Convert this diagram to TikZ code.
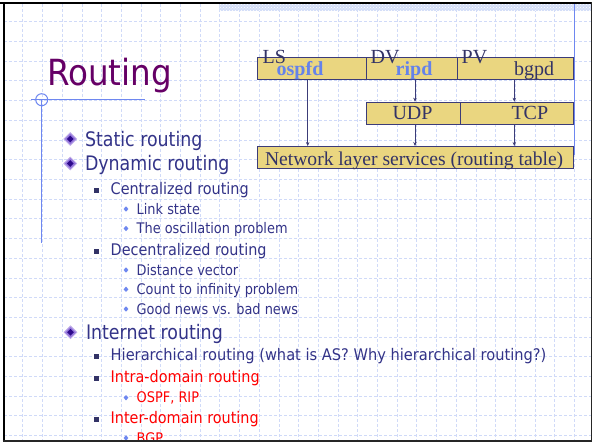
\documentclass[tikz,border=0pt]{standalone}
\usepackage{fontspec}
\setmainfont{Liberation Serif}
\newfontfamily\tah{DejaVu Sans}[FakeStretch=0.87]
\newfontfamily\tahb{DejaVu Sans}[FakeStretch=0.9]
\newfontfamily\tahc{DejaVu Sans}[FakeStretch=0.885]
\newfontfamily\tahd{DejaVu Sans}[FakeStretch=0.905]
\usetikzlibrary{shapes.geometric,arrows.meta,patterns}
\definecolor{txt}{RGB}{51,51,136}
\definecolor{ttl}{RGB}{102,0,102}
\definecolor{gridc}{RGB}{208,218,248}
\definecolor{accent}{RGB}{110,135,240}
\definecolor{boxfill}{RGB}{234,214,128}
\definecolor{boxline}{RGB}{60,60,120}
\definecolor{blutxt}{RGB}{100,130,235}
\definecolor{dtxt}{RGB}{51,51,102}
\definecolor{bandc}{RGB}{212,222,248}
\definecolor{bullpurple}{RGB}{150,120,220}
\definecolor{bulldark}{RGB}{46,10,140}
\definecolor{redtxt}{RGB}{255,0,0}
\tikzset{
  gridline/.style={gridc, line width=0.6pt, dash pattern=on 3pt off 2pt},
  acline/.style={accent, line width=1pt},
  txtnode/.style={inner sep=0pt, outer sep=0pt, anchor=base west},
  lone/.style={txtnode, font=\tah\fontsize{20}{24}\selectfont, text=txt},
  ltwo/.style={txtnode, font=\tahb\fontsize{16}{19}\selectfont, text=txt},
  lthree/.style={txtnode, font=\tahc\fontsize{14.6}{17}\selectfont, text=txt},
  ttlnode/.style={txtnode, font=\tahd\fontsize{36}{40}\selectfont, text=ttl},
  bulA/.style={diamond, fill=bullpurple, draw=bullpurple!60!white, line width=0.8pt, inner sep=0pt, minimum width=13pt, minimum height=13pt},
  bulAin/.style={diamond, fill=bulldark, inner sep=0pt, minimum width=7pt, minimum height=7pt},
  bulB/.style={rectangle, fill=dtxt, inner sep=0pt, minimum size=5pt},
  bulC/.style={diamond, fill=accent, inner sep=0pt, minimum width=5pt, minimum height=5.5pt},
  dbox/.style={rectangle, draw=boxline, fill=boxfill, line width=0.8pt, inner sep=0pt, anchor=north west},
  dlab/.style={txtnode, font=\fontsize{20}{24}\selectfont, text=dtxt},
  dblu/.style={txtnode, font=\bfseries\fontsize{20}{24}\selectfont, text=blutxt},
  arr/.style={boxline, line width=0.6pt, -{Stealth[length=4pt,width=3.5pt]}}
}
\begin{document}
\begin{tikzpicture}[x=1pt,y=-1pt]
\useasboundingbox (0,0) rectangle (592,444);
\fill[white] (0,0) rectangle (592,444);
% grid
\foreach \i in {0,...,28} \draw[gridline] ({22.7+19.7*\i},4) -- ({22.7+19.7*\i},440);
\foreach \j in {0,...,21} \draw[gridline] (4,{21.7+19.7*\j}) -- (591,{21.7+19.7*\j});
% top hatched band
\fill[bandc] (219,4) rectangle (591,11);
\fill[pattern=crosshatch dots, pattern color=white] (219,4) rectangle (591,11);
% accent lines
\draw[acline] (574.3,4) -- (574.3,154.5);
\draw[acline] (31,99.7) -- (145,99.7);
\draw[acline] (41.7,99.7) -- (41.7,243.3);
\draw[acline] (41.7,99.7) circle (6);
% title
\node[ttlnode] (title) at (47,85) {Routing};
% slide text
\begin{scope}
\clip (0,0) rectangle (592,440);
\node[bulA] (ba1) at (70.3,139) {}; \node[bulAin] at (ba1) {};
\node[lone] (static) at (85,146) {Static routing};
\node[bulA] (ba2) at (70.3,163.5) {}; \node[bulAin] at (ba2) {};
\node[lone] (dynamic) at (85,170.3) {Dynamic routing};
\node[bulB] (bb1) at (96,190.3) {};
\node[ltwo] (central) at (110.7,194.3) {Centralized routing};
\node[bulC] (bc1) at (126,209) {};
\node[lthree] (linkstate) at (136.7,214) {Link state};
\node[bulC] (bc2) at (126,228.5) {};
\node[lthree] (oscil) at (136.7,233.5) {The oscillation problem};
\node[bulB] (bb2) at (96,251) {};
\node[ltwo] (decentral) at (110.7,255) {Decentralized routing};
\node[bulC] (bc3) at (126,270) {};
\node[lthree] (distvec) at (136.7,275) {Distance vector};
\node[bulC] (bc4) at (126,289.3) {};
\node[lthree] (count) at (136.7,294.3) {Count to infinity problem};
\node[bulC] (bc5) at (126,309) {};
\node[lthree] (goodnews) at (136.7,314) {Good news vs. bad news};
\node[bulA] (ba3) at (70.5,332.3) {}; \node[bulAin] at (ba3) {};
\node[lone] (internet) at (86,339) {Internet routing};
\node[bulB] (bb3) at (96,356.7) {};
\node[ltwo] (hier) at (110.7,360.7) {\scalebox{1.015}[1]{Hierarchical routing (what is AS? Why hierarchical routing?)}};
\node[bulB] (bb4) at (96,378.7) {};
\node[ltwo, text=redtxt] (intra) at (110.7,382.7) {Intra-domain routing};
\node[bulC] (bc6) at (126,397.7) {};
\node[lthree, text=redtxt] (ospfrip) at (136.7,402.7) {OSPF, RIP};
\node[bulB] (bb5) at (96,419.3) {};
\node[ltwo, text=redtxt] (inter) at (110.7,423.3) {Inter-domain routing};
\node[bulC] (bc7) at (126,438) {};
\node[lthree, text=redtxt] (bgp) at (136.7,443) {BGP};
\end{scope}
% diagram boxes
\node[dbox, minimum width=109pt, minimum height=22pt] (lsbox) at (256.7,57.3) {};
\node[dbox, minimum width=91pt, minimum height=22pt] (dvbox) at (365.7,57.3) {};
\node[dbox, minimum width=116pt, minimum height=22pt] (pvbox) at (456.7,57.3) {};
\node[dbox, minimum width=94.6pt, minimum height=22pt] (udpbox) at (365.7,101.7) {};
\node[dbox, minimum width=112.4pt, minimum height=22pt] (tcpbox) at (460.3,101.7) {};
\node[dbox, minimum width=316pt, minimum height=22.3pt] (netbox) at (256.7,146) {};
% diagram labels
\node[dlab] (ls) at (262.7,63.3) {LS};
\node[dblu] (ospfd) at (276.7,76) {ospfd};
\node[dlab] (dv) at (370.7,63.3) {DV};
\node[dblu] (ripd) at (395.7,76) {ripd};
\node[dlab] (pv) at (461.7,63.3) {PV};
\node[dlab] (bgpd) at (514,76) {bgpd};
\node[dlab] (udp) at (392.5,119) {UDP};
\node[dlab] (tcp) at (511.5,119) {TCP};
\node[dlab, font=\fontsize{19.6}{23}\selectfont] (net) at (265,165) {Network layer services (routing table)};
% arrows
\coordinate (xa) at (307.7,0);
\coordinate (xb) at (415,0);
\coordinate (xc) at (514.3,0);
\draw[arr] (lsbox.south -| xa) -- (netbox.north -| xa);
\draw[arr] (dvbox.south -| xb) -- (udpbox.north -| xb);
\draw[arr] (udpbox.south -| xb) -- (netbox.north -| xb);
\draw[arr] (pvbox.south -| xc) -- (tcpbox.north -| xc);
\draw[arr] (tcpbox.south -| xc) -- (netbox.north -| xc);
% slide border
\draw[black, line width=2.2pt] (0,3.2) -- (592,3.2);
\draw[black, line width=2.2pt] (3.7,2.1) -- (3.7,441);
\draw[black!85, line width=1.4pt] (2.6,441) -- (592,441);
\draw[black!85, line width=1.2pt] (591.3,2.1) -- (591.3,441.7);
\end{tikzpicture}
\end{document}
